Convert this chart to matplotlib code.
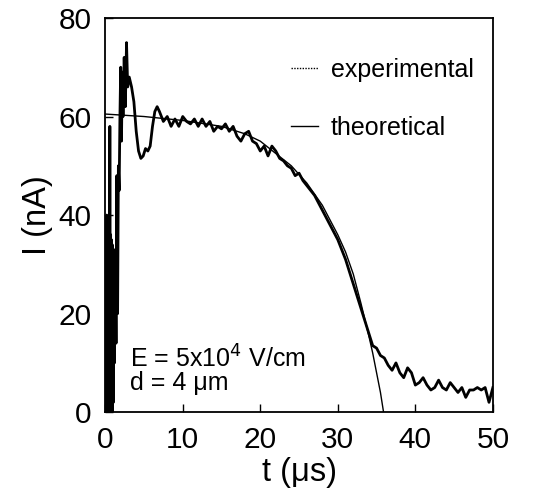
import numpy as np
import matplotlib
matplotlib.use("Agg")
import matplotlib.pyplot as plt

plt.rcParams['font.family'] = ['Liberation Sans', 'DejaVu Sans']

# experimental trace (t in us, I in nA)
t_exp = [0.15, 0.2, 0.25, 0.3, 0.35, 0.4, 0.45, 0.5, 0.55, 0.6, 0.65, 0.7, 0.75, 0.8,
         0.85, 0.9, 0.95, 1.0, 1.05, 1.1, 1.2, 1.3, 1.4, 1.5, 1.6, 1.7, 1.8, 1.9, 2.0,
         2.1, 2.2, 2.3, 2.45, 2.6, 2.75, 2.9, 3.1, 3.4, 3.7, 4.0, 4.3, 4.6, 4.9, 5.2,
         5.5, 5.8, 6.1, 6.4, 6.7,
         7.0, 7.5, 8.0, 8.5, 9.0, 9.5, 10.0, 10.5, 11.0, 11.5, 12.0, 12.5, 13.0, 13.5,
         14.0, 14.5, 15.0, 15.5, 16.0, 16.5, 17.0, 17.5, 18.0, 18.5, 19.0, 19.5, 20.0,
         20.5, 21.0, 21.5, 22.0, 22.5, 23.0, 23.5, 24.0, 24.5, 25.0, 25.5, 26.0, 26.5,
         27.0, 27.5, 28.0, 28.5, 29.0, 29.5, 30.0, 30.5, 31.0, 31.5, 32.0, 32.5, 33.0,
         33.5, 34.0, 34.5, 35.0, 35.5, 36.0, 36.5, 37.0, 37.5, 38.0, 38.5, 39.0, 39.5,
         40.0, 40.5, 41.0, 41.5, 42.0, 42.5, 43.0, 43.5, 44.0, 44.5, 45.0, 45.5, 46.0,
         46.5, 47.0, 47.5, 48.0, 48.5, 49.0, 49.5, 50.0]
i_exp = [0, 40, 0, 38, 0, 38, 0, 38, 0, 58, 0, 36, 0, 35,
         0, 34, 0, 33, 2, 30, 10, 33, 14, 48, 20, 50, 45, 60, 70,
         55, 69, 60, 72, 62, 75, 66, 68, 66, 63, 57, 53, 51.5, 52, 53.5,
         53, 54, 58, 61, 62,
         61, 59, 60, 58, 59.5, 58, 60, 59, 58.5, 59.5, 58, 59.5, 58, 59,
         57, 58, 57.5, 58.5, 57, 58, 56, 55, 56.5, 57, 55, 54.5, 53,
         54, 52, 54, 53, 51.5, 51, 50, 49.5, 48, 48.5, 47, 46, 45,
         44, 42.5, 41, 39.5, 38, 36.5, 35, 33, 31, 28.5, 26, 23.5, 21,
         18.5, 16, 13.5, 13, 11.5, 11, 9.5, 8.5, 10, 8, 7, 9, 8,
         5.5, 6, 7, 5.5, 4.5, 5, 6.5, 5, 4.5, 6, 5, 4, 5,
         3, 4.5, 4.5, 5, 4.5, 5, 2, 5]

# theoretical curve
t_th = [0, 5, 10, 15, 18, 20, 22, 24, 26, 28, 30, 31, 32, 33, 34, 34.5, 35, 35.5, 35.9]
i_th = [60.5, 60, 59.2, 58, 56.5, 55, 52.5, 50, 46.5, 42, 36, 32.5, 28, 22, 15.5, 12, 8, 4, 0]

fig = plt.figure(figsize=(5.34, 4.99), dpi=100)
ax = fig.add_axes([0.197, 0.174, 0.726, 0.79])

ax.plot(t_exp, i_exp, color='black', lw=2.0)
ax.plot(t_th, i_th, color='black', lw=1.0)

# legend handles
h1, = ax.plot([], [], color='black', lw=1.0, ls=(0, (1, 1)), label='experimental')
h2, = ax.plot([], [], color='black', lw=1.0, label='theoretical')
ax.legend(handles=[h1, h2], loc='upper left', bbox_to_anchor=(0.42, 0.955),
          frameon=False, fontsize=18, handlelength=1.1, handletextpad=0.5,
          labelspacing=1.35)

ax.text(0.065, 0.135, r'E = 5x10$^4$ V/cm', transform=ax.transAxes,
        fontsize=18, va='center')
ax.text(0.065, 0.075, 'd = 4 \u03bcm', transform=ax.transAxes,
        fontsize=18, va='center')

ax.set_xlim(0, 50)
ax.set_ylim(0, 80)
ax.set_xticks([0, 10, 20, 30, 40, 50])
ax.set_yticks([0, 20, 40, 60, 80])
ax.tick_params(direction='in', length=6, width=1, labelsize=21.5, pad=10)
for s in ax.spines.values():
    s.set_linewidth(1.3)

ax.set_xlabel('t (\u03bcs)', fontsize=23.5, labelpad=2)
ax.set_ylabel('I (nA)', fontsize=23.5, labelpad=4)

fig.savefig('out.png', dpi=100)
